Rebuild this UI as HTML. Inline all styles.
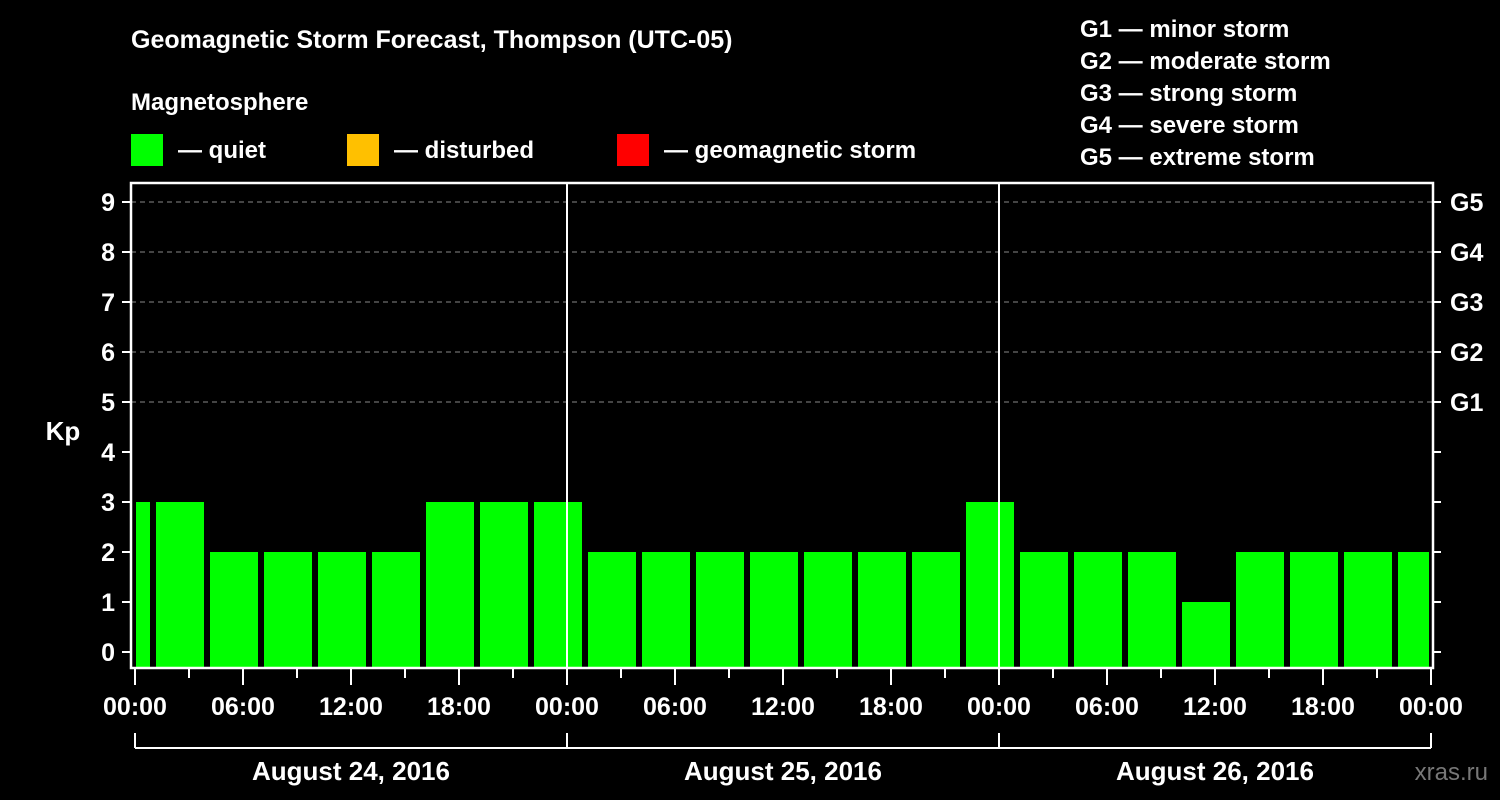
<!DOCTYPE html>
<html><head><meta charset="utf-8"><style>
body{margin:0;background:#000;}
svg{display:block;font-family:"Liberation Sans",sans-serif;font-weight:bold;}
</style></head><body>
<svg id="chart" width="1500" height="800" viewBox="0 0 1500 800">
<rect width="1500" height="800" fill="#000"/>
<text x="131" y="48" fill="#fff" font-size="25">Geomagnetic Storm Forecast, Thompson (UTC-05)</text>
<text x="131" y="110" fill="#fff" font-size="24">Magnetosphere</text>
<g><rect x="131" y="134" width="32" height="32" fill="#00ff00"/><text x="178" y="158" fill="#fff" font-size="24">— quiet</text></g>
<g><rect x="347" y="134" width="32" height="32" fill="#ffc000"/><text x="394" y="158" fill="#fff" font-size="24">— disturbed</text></g>
<g><rect x="617" y="134" width="32" height="32" fill="#ff0000"/><text x="664" y="158" fill="#fff" font-size="24">— geomagnetic storm</text></g>
<g fill="#fff" font-size="24">
<text x="1080" y="37">G1 — minor storm</text>
<text x="1080" y="69">G2 — moderate storm</text>
<text x="1080" y="101">G3 — strong storm</text>
<text x="1080" y="133">G4 — severe storm</text>
<text x="1080" y="165">G5 — extreme storm</text>
</g>
<text x="63" y="440" fill="#fff" font-size="26" text-anchor="middle">Kp</text>
<text x="1488" y="780" fill="#777" font-size="24" text-anchor="end" font-weight="normal">xras.ru</text>
<g id="grid"></g><g id="bars"></g><g id="axes"></g>
</svg>
<script>
const kpValues=[3, 3,2,2,2,2,3,3,3, 2,2,2,2,2,2,2,3, 2,2,2,1,2,2,2,2];
const startHours=[-2];
const yTicks=[0,1,2,3,4,5,6,7,8,9];
const gLabels=["G1","G2","G3","G4","G5"];
const timeLabels=["00:00","06:00","12:00","18:00"];
const dayLabels=["August 24, 2016","August 25, 2016","August 26, 2016"];
const NS="http://www.w3.org/2000/svg";
const X0=135, HPX=18, L=131, R=1433, T=183, B=668;
const x=h=>X0+h*HPX;
const y=v=>652-v*50;
function mk(tag,attrs,parent){const e=document.createElementNS(NS,tag);for(const k in attrs)e.setAttribute(k,attrs[k]);parent.appendChild(e);return e;}
const grid=document.getElementById('grid'),bars=document.getElementById('bars'),axes=document.getElementById('axes');
// gridlines for G levels
for(let v=5;v<=9;v++){
 const g=mk('line',{x1:L,x2:R,y1:y(v),y2:y(v),stroke:'#888','stroke-width':1,'stroke-dasharray':'5,4'},grid);
 
 
 const gl=mk('text',{x:1450,y:y(v)+9,fill:'#fff','font-size':25},axes);gl.textContent=gLabels[v-5];
 
 
}
// bars
kpValues.forEach((v,i)=>{
 const h0=startHours[0]+i*3;
 let a=x(h0)+3,b=x(h0+3)-3;
 a=Math.max(a,L+5);b=Math.min(b,R-4);
 const r=mk('rect',{x:a,y:y(v),width:b-a,height:B-y(v),fill:v>=5?'#ff0000':(v>=4?'#ffc000':'#00ff00')},bars);
 
 
});
// day dividers
for(let d=1;d<3;d++){const l=mk('line',{x1:x(d*24),x2:x(d*24),y1:T,y2:B,stroke:'#fff','stroke-width':2},axes);
 
 }
// frame
const fr=mk('rect',{x:L,y:T,width:R-L,height:B-T,fill:'none',stroke:'#fff','stroke-width':2.5},axes);


// y ticks
yTicks.forEach(v=>{
 mk('line',{x1:L-9,x2:L,y1:y(v),y2:y(v),stroke:'#fff','stroke-width':2},axes);
 mk('line',{x1:R,x2:R+8,y1:y(v),y2:y(v),stroke:'#fff','stroke-width':2},axes);
 const t=mk('text',{x:115,y:y(v)+9,fill:'#fff','font-size':25,'text-anchor':'end'},axes);t.textContent=v;
 
 
});
// x ticks
for(let h=0;h<=72;h+=3){
 const long=h%6===0;
 mk('line',{x1:x(h),x2:x(h),y1:B,y2:B+(long?17:10),stroke:'#fff','stroke-width':2},axes);
 if(long){const t=mk('text',{x:x(h),y:715,fill:'#fff','font-size':25,'text-anchor':'middle'},axes);
  t.textContent=h===72?"00:00":timeLabels[(h%24)/6];
  
  }
}
// day brackets
mk('line',{x1:x(0),x2:x(72),y1:748,y2:748,stroke:'#fff','stroke-width':2},axes);
for(let d=0;d<=3;d++)mk('line',{x1:x(d*24),x2:x(d*24),y1:733,y2:748,stroke:'#fff','stroke-width':2},axes);
dayLabels.forEach((s,d)=>{const t=mk('text',{x:x(d*24+12),y:780,fill:'#fff','font-size':26,'text-anchor':'middle'},axes);t.textContent=s;
 
 });
</script>
</body></html>
